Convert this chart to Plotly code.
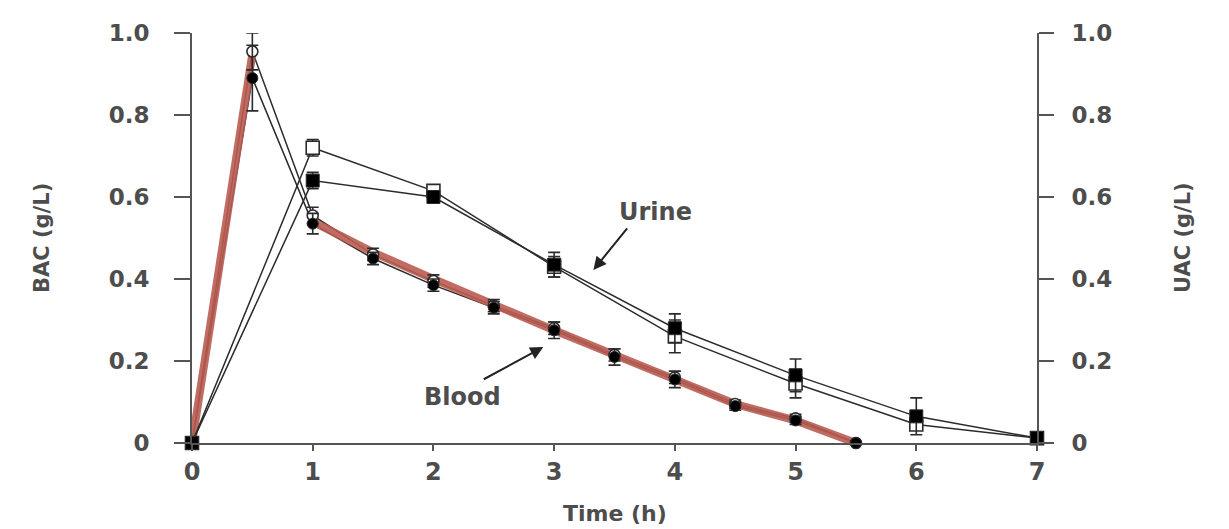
import plotly.graph_objects as go

# ---- data ----
blood_t = [0, 0.5, 1, 1.5, 2, 2.5, 3, 3.5, 4, 4.5, 5, 5.5]
blood_open = [0, 0.955, 0.555, 0.46, 0.395, 0.335, 0.28, 0.215, 0.16, 0.095, 0.06, 0.0]
blood_open_err = [0, 0.045, 0.02, 0.015, 0.015, 0.015, 0.015, 0.015, 0.015, 0.01, 0.01, 0]
blood_filled = [0, 0.89, 0.535, 0.45, 0.385, 0.33, 0.275, 0.21, 0.155, 0.09, 0.055, 0.0]
blood_filled_err = [0, 0.08, 0.025, 0.015, 0.015, 0.015, 0.02, 0.02, 0.02, 0.01, 0.01, 0]

fit_t = [0, 0.5, None, 1, 1.5, 2, 2.5, 3, 3.5, 4, 4.5, 5, 5.5]
fit_v = [0, 0.95, None, 0.54, 0.465, 0.40, 0.335, 0.275, 0.215, 0.155, 0.095, 0.055, 0.0]

urine_t = [0, 1, 2, 3, 4, 5, 6, 7]
urine_open = [0, 0.72, 0.615, 0.43, 0.26, 0.145, 0.045, 0.012]
urine_open_err = [0, 0.02, 0.015, 0.025, 0.04, 0.035, 0.01, 0.005]
urine_filled = [0, 0.64, 0.60, 0.435, 0.28, 0.165, 0.065, 0.012]
urine_filled_err = [0, 0.02, 0.015, 0.03, 0.035, 0.04, 0.045, 0.005]

x_ticks = [0, 1, 2, 3, 4, 5, 6, 7]
y_ticks = [0, 0.2, 0.4, 0.6, 0.8, 1.0]
y_ticktext = ["0", "0.2", "0.4", "0.6", "0.8", "1.0"]

INK = "#2b2b2b"
AX = "#555555"
TXT = "#4d4d4d"
RED = "rgba(186,92,82,0.9)"
FONT = "DejaVu Sans, Liberation Sans, Arial, sans-serif"

fig = go.Figure()

def err(vals, color=INK):
    return dict(type="data", array=vals, visible=True, color=color, thickness=1.6, width=6)

# urine series (right axis)
fig.add_trace(go.Scatter(x=urine_t, y=urine_open, yaxis="y2", mode="lines+markers",
                         line=dict(color=INK, width=1.5),
                         marker=dict(symbol="square", size=13, color="white", line=dict(color=INK, width=1.6)),
                         error_y=err(urine_open_err), cliponaxis=False, showlegend=False))
fig.add_trace(go.Scatter(x=urine_t, y=urine_filled, yaxis="y2", mode="lines+markers",
                         line=dict(color=INK, width=1.5),
                         marker=dict(symbol="square", size=13, color="black", line=dict(color=INK, width=1)),
                         error_y=err(urine_filled_err), cliponaxis=False, showlegend=False))

# blood thin lines
fig.add_trace(go.Scatter(x=blood_t, y=blood_open, mode="lines",
                         line=dict(color=INK, width=1.5), cliponaxis=False, showlegend=False))
fig.add_trace(go.Scatter(x=blood_t, y=blood_filled, mode="lines",
                         line=dict(color=INK, width=1.5), cliponaxis=False, showlegend=False))

# red fit line
fig.add_trace(go.Scatter(x=fit_t, y=fit_v, mode="lines", connectgaps=False,
                         line=dict(color=RED, width=8), cliponaxis=False, showlegend=False))

# blood markers
fig.add_trace(go.Scatter(x=blood_t, y=blood_open, mode="markers",
                         marker=dict(symbol="circle", size=11, color="white", line=dict(color=INK, width=1.6)),
                         error_y=err(blood_open_err), cliponaxis=False, showlegend=False))
fig.add_trace(go.Scatter(x=blood_t, y=blood_filled, mode="markers",
                         marker=dict(symbol="circle", size=11, color="black", line=dict(color=INK, width=1)),
                         error_y=err(blood_filled_err), cliponaxis=False, showlegend=False))

xtickfont = dict(family=FONT, size=24, color=TXT, weight="bold")
ytickfont = dict(family=FONT, size=23, color=TXT, weight="bold")

fig.update_layout(
    width=1221, height=521,
    margin=dict(l=184, r=192, t=25, b=86),
    paper_bgcolor="white", plot_bgcolor="white",
    font=dict(family=FONT, color=TXT),
    xaxis=dict(range=[0, 7], tickvals=x_ticks, ticks="outside", ticklen=6, tickwidth=2,
               tickcolor=AX, showline=True, linecolor=AX, linewidth=2, showgrid=False,
               zeroline=False, tickfont=xtickfont, ticklabelstandoff=0),
    yaxis=dict(range=[0, 1.0], tickvals=y_ticks, ticktext=y_ticktext, ticks="outside",
               ticklen=16, tickwidth=2, tickcolor=AX, showline=True, linecolor=AX, linewidth=2,
               showgrid=False, zeroline=False, tickfont=ytickfont, ticklabelstandoff=20),
    yaxis2=dict(range=[0, 1.0], tickvals=y_ticks, ticktext=y_ticktext, ticks="outside",
                ticklen=15, tickwidth=2, tickcolor=AX, showline=True, linecolor=AX, linewidth=2,
                showgrid=False, zeroline=False, tickfont=ytickfont, overlaying="y", side="right",
                anchor="x", ticklabelstandoff=13),
    annotations=[
        dict(text="BAC (g/L)", xref="paper", yref="paper", x=0, y=0.5, xshift=-150,
             xanchor="center", yanchor="middle",
             textangle=-90, showarrow=False, font=dict(family=FONT, size=21, color=TXT, weight="bold")),
        dict(text="UAC (g/L)", xref="paper", yref="paper", x=1, y=0.5, xshift=146,
             xanchor="center", yanchor="middle",
             textangle=-90, showarrow=False, font=dict(family=FONT, size=21, color=TXT, weight="bold")),
        dict(text="Time (h)", xref="paper", yref="paper", x=0.5, y=0, yshift=-70,
             xanchor="center", yanchor="middle",
             showarrow=False, font=dict(family=FONT, size=22, color=TXT, weight="bold")),
        dict(text="Urine", x=3.84, y=0.563, xref="x", yref="y", showarrow=False,
             font=dict(family=FONT, size=24, color=TXT, weight="bold")),
        dict(text="", x=3.325, y=0.422, xref="x", yref="y", showarrow=True,
             ax=35, ay=-43, arrowhead=2, arrowsize=1.3, arrowwidth=2, arrowcolor="#222"),
        dict(text="Blood", x=2.24, y=0.112, xref="x", yref="y", showarrow=False,
             font=dict(family=FONT, size=24, color=TXT, weight="bold")),
        dict(text="", x=2.91, y=0.234, xref="x", yref="y", showarrow=True,
             ax=-61, ay=33, arrowhead=2, arrowsize=1.3, arrowwidth=2, arrowcolor="#222"),
    ],
)

fig.write_html("out.html")
